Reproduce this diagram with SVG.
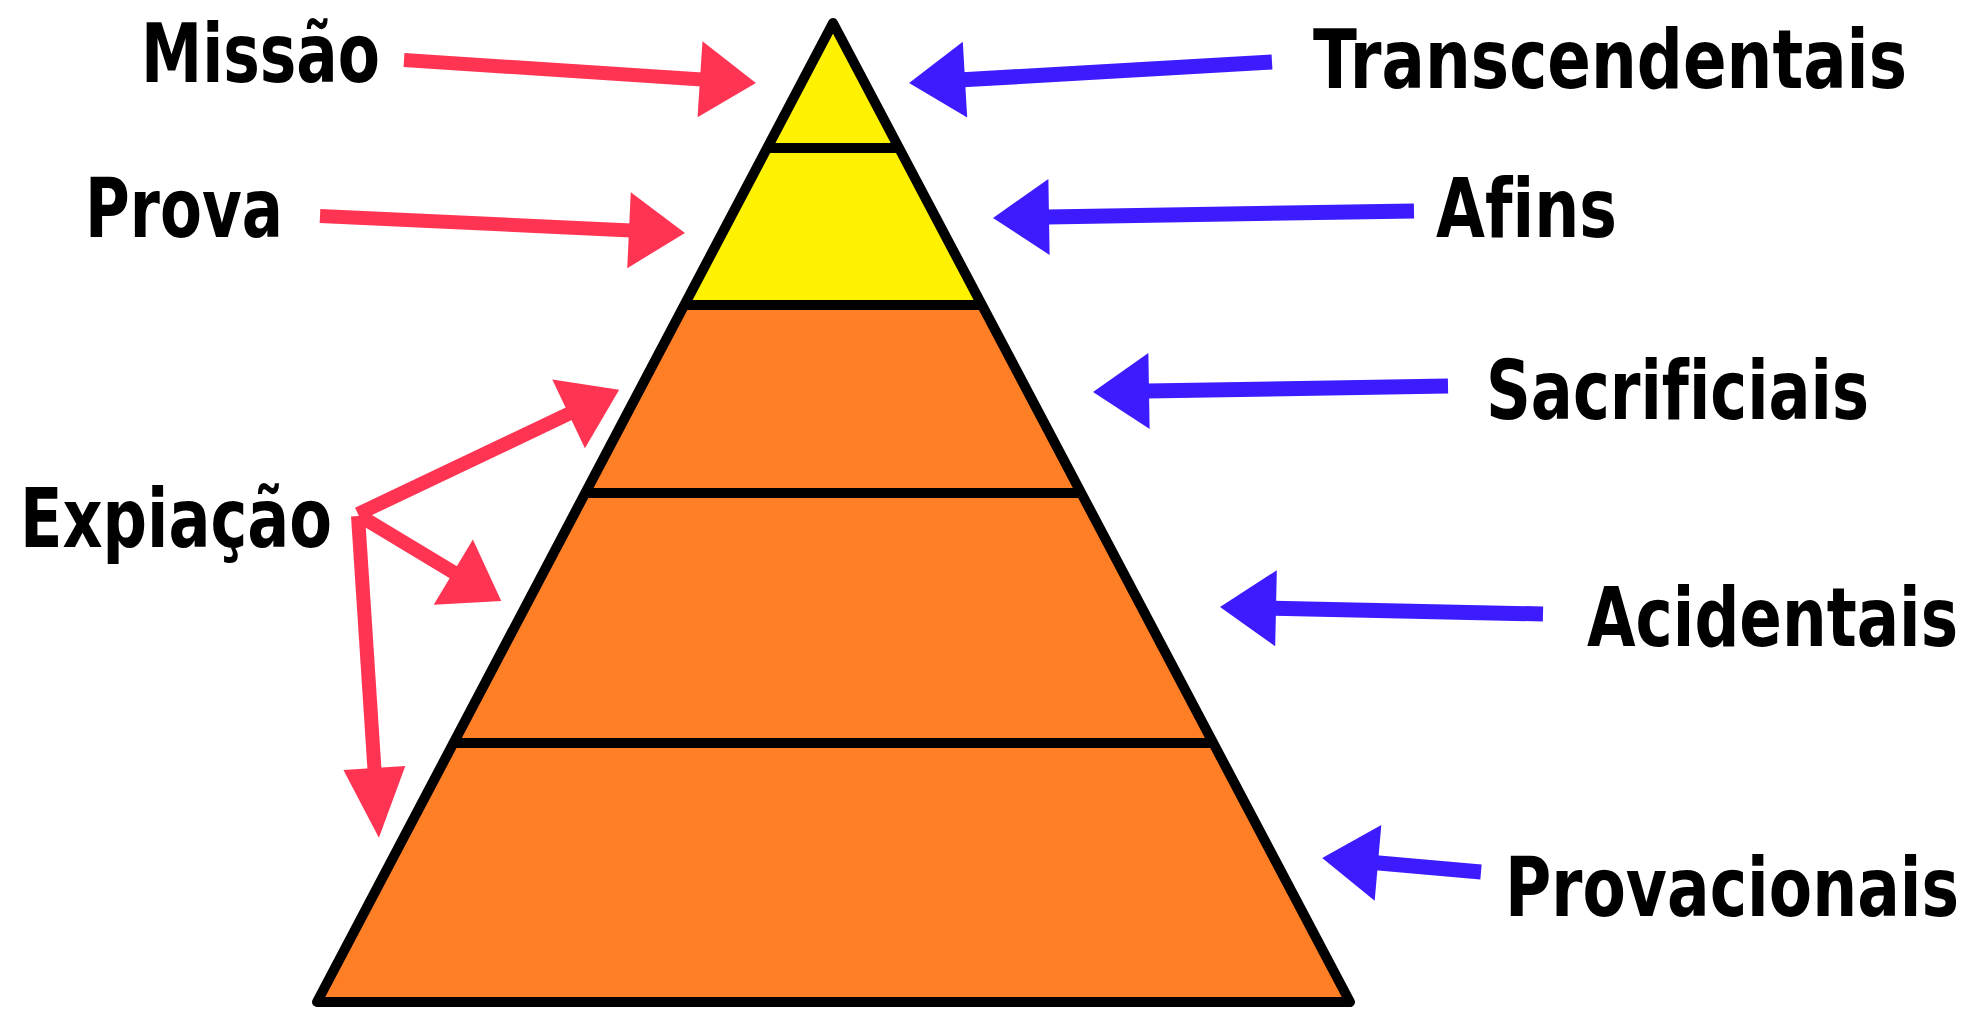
<svg xmlns="http://www.w3.org/2000/svg" width="1967" height="1009" viewBox="0 0 1967 1009">
<style>
.lbl{font-family:"DejaVu Sans","Liberation Sans",sans-serif;font-weight:bold;font-size:82px;fill:#000;font-variant-ligatures:none;font-feature-settings:"liga" 0}
.red{stroke:#ff3352;stroke-width:14;fill:none}
.blue{stroke:#3c1cff;stroke-width:15;fill:none}
.div{stroke:#000;stroke-width:10}
</style>
<defs>
<marker id="hr" markerUnits="userSpaceOnUse" markerWidth="60" markerHeight="78" refX="2" refY="38" orient="auto" overflow="visible"><path d="M0,0 L56,38 L0,76 Z" fill="#ff3352"/></marker>
<marker id="hrl" markerUnits="userSpaceOnUse" markerWidth="74" markerHeight="78" refX="2" refY="31" orient="auto" overflow="visible"><path d="M0,0 L70,31 L0,62 Z" fill="#ff3352"/></marker>
<marker id="hb" markerUnits="userSpaceOnUse" markerWidth="60" markerHeight="78" refX="2" refY="38" orient="auto" overflow="visible"><path d="M0,0 L56,38 L0,76 Z" fill="#3c1cff"/></marker>
</defs>
<rect width="1967" height="1009" fill="#fff"/>
<g id="pyramid">
<polygon points="833,23 684.4,305 981.9,305" fill="#fff200"/>
<polygon points="684.4,305 981.9,305 1350,1002 317,1002" fill="#ff7f27"/>
<line class="div" x1="767" y1="148" x2="899" y2="148"/>
<line class="div" x1="684" y1="305" x2="982" y2="305"/>
<line class="div" x1="585" y1="493" x2="1081" y2="493"/>
<line class="div" x1="453" y1="743" x2="1213" y2="743"/>
<polygon points="833,23 1350,1002 317,1002" fill="none" stroke="#000" stroke-width="10" stroke-linejoin="round"/>
</g>
<g id="connectors">
<line class="red" x1="404" y1="60" x2="702" y2="79.4" marker-end="url(#hr)"/>
<line class="red" x1="320" y1="216" x2="631" y2="230.4" marker-end="url(#hr)"/>
<line class="red" x1="358" y1="514" x2="570.4" y2="413" marker-end="url(#hr)"/>
<line class="red" x1="360" y1="516" x2="455" y2="573.2" marker-end="url(#hr)"/>
<line class="red" x1="358" y1="516" x2="374.5" y2="770" marker-end="url(#hrl)"/>
<line class="blue" x1="1272" y1="62" x2="963" y2="79.8" marker-end="url(#hb)"/>
<line class="blue" x1="1414" y1="211" x2="1047" y2="217" marker-end="url(#hb)"/>
<line class="blue" x1="1448" y1="386" x2="1147" y2="391" marker-end="url(#hb)"/>
<line class="blue" x1="1543" y1="614" x2="1274" y2="608.2" marker-end="url(#hb)"/>
<line class="blue" x1="1481" y1="872" x2="1376" y2="862.8" marker-end="url(#hb)"/>
</g>
<g id="missao"><text class="lbl" transform="translate(141,82) scale(0.76,1)" x="0" y="0" textLength="314.5" lengthAdjust="spacingAndGlyphs">Missão</text></g>
<g id="prova"><text class="lbl" transform="translate(85,237) scale(0.76,1)" x="0" y="0" textLength="260.5" lengthAdjust="spacingAndGlyphs">Prova</text></g>
<g id="expiacao"><text class="lbl" transform="translate(20,547) scale(0.76,1)" x="0" y="0" textLength="410.5" lengthAdjust="spacingAndGlyphs">Expiação</text></g>
<g id="transcendentais"><text class="lbl" transform="translate(1313,88) scale(0.76,1)" x="0" y="0" textLength="781.6" lengthAdjust="spacingAndGlyphs">Transcendentais</text></g>
<g id="afins"><text class="lbl" transform="translate(1436,237) scale(0.76,1)" x="0" y="0" textLength="238.2" lengthAdjust="spacingAndGlyphs">Afins</text></g>
<g id="sacrificiais"><text class="lbl" transform="translate(1486,419) scale(0.76,1)" x="0" y="0" textLength="504" lengthAdjust="spacingAndGlyphs">Sacrificiais</text></g>
<g id="acidentais"><text class="lbl" transform="translate(1587,646) scale(0.76,1)" x="0" y="0" textLength="488.2" lengthAdjust="spacingAndGlyphs">Acidentais</text></g>
<g id="provacionais"><text class="lbl" transform="translate(1505,916) scale(0.76,1)" x="0" y="0" textLength="597.4" lengthAdjust="spacingAndGlyphs">Provacionais</text></g>
</svg>
